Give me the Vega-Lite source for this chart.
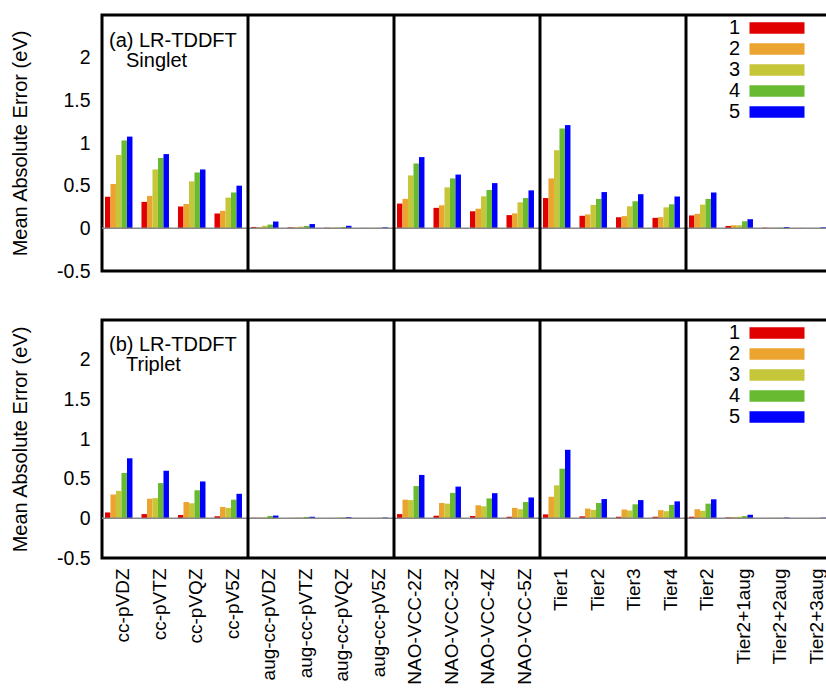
{
  "$schema": "https://vega.github.io/schema/vega-lite/v6.json",
  "padding": {"left": 8, "top": 12, "right": 0, "bottom": 0},
  "config": {
    "font": "Liberation Sans",
    "view": {"stroke": "black", "strokeWidth": 3},
    "axis": {"grid": false, "domain": false, "ticks": false, "labelColor": "black", "titleColor": "black"},
    "legend": {
      "orient": "none", "legendX": 665, "legendY": 3,
      "title": null,
      "symbolType": "M-5,-1.05H5V1.05H-5Z",
      "symbolSize": 121,
      "symbolStrokeWidth": 0,
      "symbolOpacity": 1,
      "rowPadding": 1,
      "labelFontSize": 20,
      "labelColor": "black",
      "labelAlign": "right",
      "labelOffset": -47,
      "padding": 0
    }
  },
  "data": {"values": [
    {"p":"S","c":"cc-pVDZ","n":"1","v":0.37},{"p":"S","c":"cc-pVDZ","n":"2","v":0.52},{"p":"S","c":"cc-pVDZ","n":"3","v":0.86},{"p":"S","c":"cc-pVDZ","n":"4","v":1.03},{"p":"S","c":"cc-pVDZ","n":"5","v":1.075},
    {"p":"S","c":"cc-pVTZ","n":"1","v":0.31},{"p":"S","c":"cc-pVTZ","n":"2","v":0.38},{"p":"S","c":"cc-pVTZ","n":"3","v":0.69},{"p":"S","c":"cc-pVTZ","n":"4","v":0.825},{"p":"S","c":"cc-pVTZ","n":"5","v":0.87},
    {"p":"S","c":"cc-pVQZ","n":"1","v":0.255},{"p":"S","c":"cc-pVQZ","n":"2","v":0.285},{"p":"S","c":"cc-pVQZ","n":"3","v":0.55},{"p":"S","c":"cc-pVQZ","n":"4","v":0.655},{"p":"S","c":"cc-pVQZ","n":"5","v":0.69},
    {"p":"S","c":"cc-pV5Z","n":"1","v":0.175},{"p":"S","c":"cc-pV5Z","n":"2","v":0.205},{"p":"S","c":"cc-pV5Z","n":"3","v":0.36},{"p":"S","c":"cc-pV5Z","n":"4","v":0.42},{"p":"S","c":"cc-pV5Z","n":"5","v":0.5},
    {"p":"S","c":"aug-cc-pVDZ","n":"1","v":0.016},{"p":"S","c":"aug-cc-pVDZ","n":"2","v":0.014},{"p":"S","c":"aug-cc-pVDZ","n":"3","v":0.03},{"p":"S","c":"aug-cc-pVDZ","n":"4","v":0.044},{"p":"S","c":"aug-cc-pVDZ","n":"5","v":0.08},
    {"p":"S","c":"aug-cc-pVTZ","n":"1","v":0.012},{"p":"S","c":"aug-cc-pVTZ","n":"2","v":0.012},{"p":"S","c":"aug-cc-pVTZ","n":"3","v":0.02},{"p":"S","c":"aug-cc-pVTZ","n":"4","v":0.028},{"p":"S","c":"aug-cc-pVTZ","n":"5","v":0.05},
    {"p":"S","c":"aug-cc-pVQZ","n":"1","v":0.008},{"p":"S","c":"aug-cc-pVQZ","n":"2","v":0.008},{"p":"S","c":"aug-cc-pVQZ","n":"3","v":0.01},{"p":"S","c":"aug-cc-pVQZ","n":"4","v":0.015},{"p":"S","c":"aug-cc-pVQZ","n":"5","v":0.03},
    {"p":"S","c":"aug-cc-pV5Z","n":"1","v":0.005},{"p":"S","c":"aug-cc-pV5Z","n":"2","v":0.005},{"p":"S","c":"aug-cc-pV5Z","n":"3","v":0.006},{"p":"S","c":"aug-cc-pV5Z","n":"4","v":0.007},{"p":"S","c":"aug-cc-pV5Z","n":"5","v":0.012},
    {"p":"S","c":"NAO-VCC-2Z","n":"1","v":0.29},{"p":"S","c":"NAO-VCC-2Z","n":"2","v":0.345},{"p":"S","c":"NAO-VCC-2Z","n":"3","v":0.62},{"p":"S","c":"NAO-VCC-2Z","n":"4","v":0.76},{"p":"S","c":"NAO-VCC-2Z","n":"5","v":0.835},
    {"p":"S","c":"NAO-VCC-3Z","n":"1","v":0.24},{"p":"S","c":"NAO-VCC-3Z","n":"2","v":0.27},{"p":"S","c":"NAO-VCC-3Z","n":"3","v":0.48},{"p":"S","c":"NAO-VCC-3Z","n":"4","v":0.585},{"p":"S","c":"NAO-VCC-3Z","n":"5","v":0.63},
    {"p":"S","c":"NAO-VCC-4Z","n":"1","v":0.2},{"p":"S","c":"NAO-VCC-4Z","n":"2","v":0.23},{"p":"S","c":"NAO-VCC-4Z","n":"3","v":0.375},{"p":"S","c":"NAO-VCC-4Z","n":"4","v":0.45},{"p":"S","c":"NAO-VCC-4Z","n":"5","v":0.53},
    {"p":"S","c":"NAO-VCC-5Z","n":"1","v":0.155},{"p":"S","c":"NAO-VCC-5Z","n":"2","v":0.175},{"p":"S","c":"NAO-VCC-5Z","n":"3","v":0.305},{"p":"S","c":"NAO-VCC-5Z","n":"4","v":0.355},{"p":"S","c":"NAO-VCC-5Z","n":"5","v":0.445},
    {"p":"S","c":"Tier1","n":"1","v":0.355},{"p":"S","c":"Tier1","n":"2","v":0.585},{"p":"S","c":"Tier1","n":"3","v":0.915},{"p":"S","c":"Tier1","n":"4","v":1.17},{"p":"S","c":"Tier1","n":"5","v":1.21},
    {"p":"S","c":"Tier2","n":"1","v":0.147},{"p":"S","c":"Tier2","n":"2","v":0.163},{"p":"S","c":"Tier2","n":"3","v":0.275},{"p":"S","c":"Tier2","n":"4","v":0.345},{"p":"S","c":"Tier2","n":"5","v":0.425},
    {"p":"S","c":"Tier3","n":"1","v":0.13},{"p":"S","c":"Tier3","n":"2","v":0.143},{"p":"S","c":"Tier3","n":"3","v":0.258},{"p":"S","c":"Tier3","n":"4","v":0.317},{"p":"S","c":"Tier3","n":"5","v":0.4},
    {"p":"S","c":"Tier4","n":"1","v":0.123},{"p":"S","c":"Tier4","n":"2","v":0.131},{"p":"S","c":"Tier4","n":"3","v":0.246},{"p":"S","c":"Tier4","n":"4","v":0.282},{"p":"S","c":"Tier4","n":"5","v":0.373},
    {"p":"S","c":"Tier2#2","n":"1","v":0.151},{"p":"S","c":"Tier2#2","n":"2","v":0.17},{"p":"S","c":"Tier2#2","n":"3","v":0.278},{"p":"S","c":"Tier2#2","n":"4","v":0.345},{"p":"S","c":"Tier2#2","n":"5","v":0.42},
    {"p":"S","c":"Tier2+1aug","n":"1","v":0.028},{"p":"S","c":"Tier2+1aug","n":"2","v":0.036},{"p":"S","c":"Tier2+1aug","n":"3","v":0.036},{"p":"S","c":"Tier2+1aug","n":"4","v":0.083},{"p":"S","c":"Tier2+1aug","n":"5","v":0.107},
    {"p":"S","c":"Tier2+2aug","n":"1","v":0.008},{"p":"S","c":"Tier2+2aug","n":"2","v":0.008},{"p":"S","c":"Tier2+2aug","n":"3","v":0.008},{"p":"S","c":"Tier2+2aug","n":"4","v":0.009},{"p":"S","c":"Tier2+2aug","n":"5","v":0.015},
    {"p":"S","c":"Tier2+3aug","n":"1","v":0.005},{"p":"S","c":"Tier2+3aug","n":"2","v":0.005},{"p":"S","c":"Tier2+3aug","n":"3","v":0.005},{"p":"S","c":"Tier2+3aug","n":"4","v":0.006},{"p":"S","c":"Tier2+3aug","n":"5","v":0.012},
    {"p":"T","c":"cc-pVDZ","n":"1","v":0.074},{"p":"T","c":"cc-pVDZ","n":"2","v":0.3},{"p":"T","c":"cc-pVDZ","n":"3","v":0.346},{"p":"T","c":"cc-pVDZ","n":"4","v":0.572},{"p":"T","c":"cc-pVDZ","n":"5","v":0.757},
    {"p":"T","c":"cc-pVTZ","n":"1","v":0.053},{"p":"T","c":"cc-pVTZ","n":"2","v":0.247},{"p":"T","c":"cc-pVTZ","n":"3","v":0.255},{"p":"T","c":"cc-pVTZ","n":"4","v":0.444},{"p":"T","c":"cc-pVTZ","n":"5","v":0.6},
    {"p":"T","c":"cc-pVQZ","n":"1","v":0.041},{"p":"T","c":"cc-pVQZ","n":"2","v":0.206},{"p":"T","c":"cc-pVQZ","n":"3","v":0.19},{"p":"T","c":"cc-pVQZ","n":"4","v":0.354},{"p":"T","c":"cc-pVQZ","n":"5","v":0.465},
    {"p":"T","c":"cc-pV5Z","n":"1","v":0.025},{"p":"T","c":"cc-pV5Z","n":"2","v":0.144},{"p":"T","c":"cc-pV5Z","n":"3","v":0.132},{"p":"T","c":"cc-pV5Z","n":"4","v":0.235},{"p":"T","c":"cc-pV5Z","n":"5","v":0.309},
    {"p":"T","c":"aug-cc-pVDZ","n":"1","v":0.008},{"p":"T","c":"aug-cc-pVDZ","n":"2","v":0.01},{"p":"T","c":"aug-cc-pVDZ","n":"3","v":0.014},{"p":"T","c":"aug-cc-pVDZ","n":"4","v":0.03},{"p":"T","c":"aug-cc-pVDZ","n":"5","v":0.035},
    {"p":"T","c":"aug-cc-pVTZ","n":"1","v":0.005},{"p":"T","c":"aug-cc-pVTZ","n":"2","v":0.008},{"p":"T","c":"aug-cc-pVTZ","n":"3","v":0.01},{"p":"T","c":"aug-cc-pVTZ","n":"4","v":0.018},{"p":"T","c":"aug-cc-pVTZ","n":"5","v":0.02},
    {"p":"T","c":"aug-cc-pVQZ","n":"1","v":0.004},{"p":"T","c":"aug-cc-pVQZ","n":"2","v":0.005},{"p":"T","c":"aug-cc-pVQZ","n":"3","v":0.007},{"p":"T","c":"aug-cc-pVQZ","n":"4","v":0.01},{"p":"T","c":"aug-cc-pVQZ","n":"5","v":0.015},
    {"p":"T","c":"aug-cc-pV5Z","n":"1","v":0.003},{"p":"T","c":"aug-cc-pV5Z","n":"2","v":0.004},{"p":"T","c":"aug-cc-pV5Z","n":"3","v":0.005},{"p":"T","c":"aug-cc-pV5Z","n":"4","v":0.006},{"p":"T","c":"aug-cc-pV5Z","n":"5","v":0.01},
    {"p":"T","c":"NAO-VCC-2Z","n":"1","v":0.053},{"p":"T","c":"NAO-VCC-2Z","n":"2","v":0.235},{"p":"T","c":"NAO-VCC-2Z","n":"3","v":0.23},{"p":"T","c":"NAO-VCC-2Z","n":"4","v":0.407},{"p":"T","c":"NAO-VCC-2Z","n":"5","v":0.547},
    {"p":"T","c":"NAO-VCC-3Z","n":"1","v":0.033},{"p":"T","c":"NAO-VCC-3Z","n":"2","v":0.193},{"p":"T","c":"NAO-VCC-3Z","n":"3","v":0.185},{"p":"T","c":"NAO-VCC-3Z","n":"4","v":0.321},{"p":"T","c":"NAO-VCC-3Z","n":"5","v":0.4},
    {"p":"T","c":"NAO-VCC-4Z","n":"1","v":0.029},{"p":"T","c":"NAO-VCC-4Z","n":"2","v":0.165},{"p":"T","c":"NAO-VCC-4Z","n":"3","v":0.152},{"p":"T","c":"NAO-VCC-4Z","n":"4","v":0.251},{"p":"T","c":"NAO-VCC-4Z","n":"5","v":0.317},
    {"p":"T","c":"NAO-VCC-5Z","n":"1","v":0.02},{"p":"T","c":"NAO-VCC-5Z","n":"2","v":0.132},{"p":"T","c":"NAO-VCC-5Z","n":"3","v":0.115},{"p":"T","c":"NAO-VCC-5Z","n":"4","v":0.206},{"p":"T","c":"NAO-VCC-5Z","n":"5","v":0.263},
    {"p":"T","c":"Tier1","n":"1","v":0.05},{"p":"T","c":"Tier1","n":"2","v":0.272},{"p":"T","c":"Tier1","n":"3","v":0.416},{"p":"T","c":"Tier1","n":"4","v":0.626},{"p":"T","c":"Tier1","n":"5","v":0.864},
    {"p":"T","c":"Tier2","n":"1","v":0.025},{"p":"T","c":"Tier2","n":"2","v":0.123},{"p":"T","c":"Tier2","n":"3","v":0.107},{"p":"T","c":"Tier2","n":"4","v":0.193},{"p":"T","c":"Tier2","n":"5","v":0.243},
    {"p":"T","c":"Tier3","n":"1","v":0.02},{"p":"T","c":"Tier3","n":"2","v":0.111},{"p":"T","c":"Tier3","n":"3","v":0.099},{"p":"T","c":"Tier3","n":"4","v":0.177},{"p":"T","c":"Tier3","n":"5","v":0.23},
    {"p":"T","c":"Tier4","n":"1","v":0.02},{"p":"T","c":"Tier4","n":"2","v":0.103},{"p":"T","c":"Tier4","n":"3","v":0.09},{"p":"T","c":"Tier4","n":"4","v":0.169},{"p":"T","c":"Tier4","n":"5","v":0.214},
    {"p":"T","c":"Tier2#2","n":"1","v":0.02},{"p":"T","c":"Tier2#2","n":"2","v":0.115},{"p":"T","c":"Tier2#2","n":"3","v":0.095},{"p":"T","c":"Tier2#2","n":"4","v":0.185},{"p":"T","c":"Tier2#2","n":"5","v":0.24},
    {"p":"T","c":"Tier2+1aug","n":"1","v":0.012},{"p":"T","c":"Tier2+1aug","n":"2","v":0.016},{"p":"T","c":"Tier2+1aug","n":"3","v":0.02},{"p":"T","c":"Tier2+1aug","n":"4","v":0.029},{"p":"T","c":"Tier2+1aug","n":"5","v":0.045},
    {"p":"T","c":"Tier2+2aug","n":"1","v":0.005},{"p":"T","c":"Tier2+2aug","n":"2","v":0.006},{"p":"T","c":"Tier2+2aug","n":"3","v":0.006},{"p":"T","c":"Tier2+2aug","n":"4","v":0.007},{"p":"T","c":"Tier2+2aug","n":"5","v":0.01},
    {"p":"T","c":"Tier2+3aug","n":"1","v":0.004},{"p":"T","c":"Tier2+3aug","n":"2","v":0.005},{"p":"T","c":"Tier2+3aug","n":"3","v":0.005},{"p":"T","c":"Tier2+3aug","n":"4","v":0.006},{"p":"T","c":"Tier2+3aug","n":"5","v":0.009}
  ]},
  "spacing": 35,
  "resolve": {"legend": {"color": "independent"}},
  "vconcat": [
    {
      "width": 730, "height": 256,
      "layer": [
        {
          "transform": [{"filter": "datum.p == 'S'"}],
          "mark": {"type": "bar"},
          "encoding": {
            "x": {"field": "c", "type": "nominal",
                  "scale": {"domain": ["cc-pVDZ","cc-pVTZ","cc-pVQZ","cc-pV5Z","aug-cc-pVDZ","aug-cc-pVTZ","aug-cc-pVQZ","aug-cc-pV5Z","NAO-VCC-2Z","NAO-VCC-3Z","NAO-VCC-4Z","NAO-VCC-5Z","Tier1","Tier2","Tier3","Tier4","Tier2#2","Tier2+1aug","Tier2+2aug","Tier2+3aug"], "paddingInner": 0, "paddingOuter": 0},
                  "axis": null},
            "xOffset": {"field": "n", "type": "nominal", "scale": {"paddingInner": 0, "paddingOuter": 0.818, "align": 0.33}},
            "y": {"field": "v", "type": "quantitative", "scale": {"domain": [-0.5, 2.5], "nice": false},
                  "axis": {"title": "Mean Absolute Error (eV)", "titleFontSize": 20, "titleFontWeight": "normal", "titlePadding": 26,
                           "labelFontSize": 19.5, "labelPadding": 12, "values": [-0.5, 0, 0.5, 1, 1.5, 2], "labelExpr": "'' + datum.value"}},
            "color": {"field": "n", "type": "nominal", "scale": {"domain": ["1","2","3","4","5"], "range": ["#e00000","#eba430","#c6c63a","#68bb30","#0000ff"]}}
          }
        },
        {"data": {"values": [{}]}, "mark": {"type": "rule", "color": "#888888", "strokeWidth": 1.5}, "encoding": {"y": {"datum": 0}}},
        {
          "data": {"values": [{"s": "aug-cc-pVDZ"}, {"s": "NAO-VCC-2Z"}, {"s": "Tier1"}, {"s": "Tier2#2"}]},
          "mark": {"type": "rule", "color": "black", "strokeWidth": 3},
          "encoding": {"x": {"field": "s", "type": "nominal", "bandPosition": 0}}
        },
        {
          "data": {"values": [{}]},
          "mark": {"type": "text", "align": "left", "baseline": "top", "fontSize": 20, "dx": 7, "color": "black"},
          "encoding": {"x": {"datum": "cc-pVDZ", "bandPosition": 0}, "y": {"datum": 2.31}, "text": {"value": "(a) LR-TDDFT"}}
        },
        {
          "data": {"values": [{}]},
          "mark": {"type": "text", "align": "left", "baseline": "top", "fontSize": 20, "dx": 24, "dy": 20, "color": "black"},
          "encoding": {"x": {"datum": "cc-pVDZ", "bandPosition": 0}, "y": {"datum": 2.31}, "text": {"value": "Singlet"}}
        }
      ]
    },
    {
      "width": 730, "height": 238,
      "layer": [
        {
          "transform": [{"filter": "datum.p == 'T'"}],
          "mark": {"type": "bar"},
          "encoding": {
            "x": {"field": "c", "type": "nominal",
                  "scale": {"domain": ["cc-pVDZ","cc-pVTZ","cc-pVQZ","cc-pV5Z","aug-cc-pVDZ","aug-cc-pVTZ","aug-cc-pVQZ","aug-cc-pV5Z","NAO-VCC-2Z","NAO-VCC-3Z","NAO-VCC-4Z","NAO-VCC-5Z","Tier1","Tier2","Tier3","Tier4","Tier2#2","Tier2+1aug","Tier2+2aug","Tier2+3aug"], "paddingInner": 0, "paddingOuter": 0},
                  "axis": {"title": null, "ticks": false, "domain": false, "labelAngle": -90, "labelAlign": "right", "labelBaseline": "middle",
                           "labelFontSize": 19, "labelPadding": 10, "labelOffset": 3, "labelExpr": "replace(datum.label, '#2', '')"}},
            "xOffset": {"field": "n", "type": "nominal", "scale": {"paddingInner": 0, "paddingOuter": 0.818, "align": 0.33}},
            "y": {"field": "v", "type": "quantitative", "scale": {"domain": [-0.5, 2.5], "nice": false},
                  "axis": {"title": "Mean Absolute Error (eV)", "titleFontSize": 20, "titleFontWeight": "normal", "titlePadding": 26,
                           "labelFontSize": 19.5, "labelPadding": 12, "values": [-0.5, 0, 0.5, 1, 1.5, 2], "labelExpr": "'' + datum.value"}},
            "color": {"field": "n", "type": "nominal", "scale": {"domain": ["1","2","3","4","5"], "range": ["#e00000","#eba430","#c6c63a","#68bb30","#0000ff"]}}
          }
        },
        {"data": {"values": [{}]}, "mark": {"type": "rule", "color": "#888888", "strokeWidth": 1.5}, "encoding": {"y": {"datum": 0}}},
        {
          "data": {"values": [{"s": "aug-cc-pVDZ"}, {"s": "NAO-VCC-2Z"}, {"s": "Tier1"}, {"s": "Tier2#2"}]},
          "mark": {"type": "rule", "color": "black", "strokeWidth": 3},
          "encoding": {"x": {"field": "s", "type": "nominal", "bandPosition": 0}}
        },
        {
          "data": {"values": [{}]},
          "mark": {"type": "text", "align": "left", "baseline": "top", "fontSize": 20, "dx": 7, "color": "black"},
          "encoding": {"x": {"datum": "cc-pVDZ", "bandPosition": 0}, "y": {"datum": 2.31}, "text": {"value": "(b) LR-TDDFT"}}
        },
        {
          "data": {"values": [{}]},
          "mark": {"type": "text", "align": "left", "baseline": "top", "fontSize": 20, "dx": 24, "dy": 20, "color": "black"},
          "encoding": {"x": {"datum": "cc-pVDZ", "bandPosition": 0}, "y": {"datum": 2.31}, "text": {"value": "Triplet"}}
        }
      ]
    }
  ]
}
